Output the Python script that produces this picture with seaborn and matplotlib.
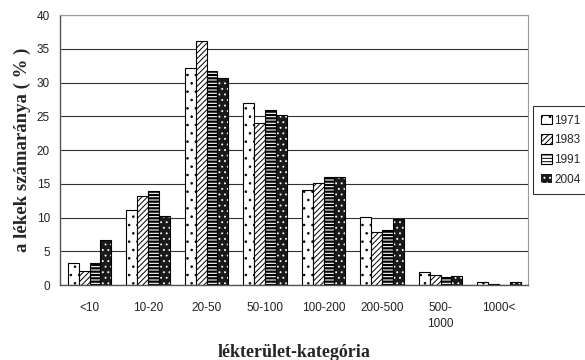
import matplotlib
matplotlib.use("Agg")
import matplotlib.pyplot as plt
import seaborn as sns
import pandas as pd
from matplotlib.patches import Rectangle

categories = ["<10", "10-20", "20-50", "50-100", "100-200", "200-500", "500-\n1000", "1000<"]
years = ["1971", "1983", "1991", "2004"]
v1971 = [3.3, 11.1, 32.1, 27.0, 14.1, 10.1, 1.9, 0.5]
v1983 = [2.1, 13.2, 36.1, 24.0, 15.2, 7.8, 1.5, 0.2]
v1991 = [3.3, 14.0, 31.7, 25.9, 16.0, 8.2, 1.2, 0.0]
v2004 = [6.7, 10.3, 30.7, 25.2, 16.0, 9.8, 1.3, 0.4]

rows = []
for y, vals in zip(years, [v1971, v1983, v1991, v2004]):
    for c, v in zip(categories, vals):
        rows.append({"cat": c, "year": y, "val": v})
df = pd.DataFrame(rows)

sns.set_style("white")
plt.rcParams['font.family'] = ['Liberation Sans', 'DejaVu Sans']
plt.rcParams['hatch.linewidth'] = 0.7

fig = plt.figure(figsize=(5.85, 3.6), dpi=100)
ax = fig.add_axes([0.103, 0.208, 0.8, 0.75])

sns.barplot(data=df, x="cat", y="val", hue="year", order=categories, hue_order=years,
            width=0.75, ax=ax, errorbar=None, legend=True)

styles = {
    "1971": dict(face="white", hatch="..", edge="black", hlw=0.6),
    "1983": dict(face="white", hatch="//////", edge="black", hlw=0.7),
    "1991": dict(face="white", hatch="-----", edge="black", hlw=1.6),
    "2004": dict(face="#1a1a1a", hatch="...", edge="white", hlw=0.6),
}

def style_patch(p, st):
    p.set_facecolor(st["face"])
    p.set_hatch(st["hatch"])
    p.set_edgecolor(st["edge"])
    p.set_linewidth(0.8 if st["edge"] == "black" else 0.0)
    if hasattr(p, "set_hatch_linewidth"):
        p.set_hatch_linewidth(st["hlw"])
    else:
        p._hatch_linewidth = st["hlw"]

for cont, yr in zip(ax.containers, years):
    st = styles[yr]
    for p in cont.patches:
        style_patch(p, st)
        if st["edge"] == "white" and p.get_height() > 0:
            ax.add_patch(Rectangle((p.get_x(), p.get_y()), p.get_width(), p.get_height(),
                                   fill=False, edgecolor="black", linewidth=0.8, zorder=p.get_zorder() + 0.1))

ax.set_ylim(0, 40)
ax.set_xlim(-0.5, len(categories) - 0.5)
ax.set_yticks(range(0, 41, 5))
ax.yaxis.grid(True, color="#333333", linewidth=0.8)
ax.set_axisbelow(True)

ax.set_xticks(range(len(categories)))
ax.set_xticklabels(categories)
ax.set_xticks([i - 0.5 for i in range(len(categories) + 1)], minor=True)
ax.tick_params(axis="x", which="major", length=0, labelsize=8.5, pad=12, colors="#222222")
ax.tick_params(axis="x", which="minor", length=4, direction="out", color="#555555")
ax.tick_params(axis="y", length=4, direction="out", labelsize=8.5, color="#555555", colors="#222222")
for lab in ax.get_xticklabels():
    lab.set_verticalalignment("top")
    lab.set_linespacing(1.5)

for s in ["left", "bottom"]:
    ax.spines[s].set_color("#555555")
    ax.spines[s].set_linewidth(1.0)
for s in ["top", "right"]:
    ax.spines[s].set_color("#999999")
    ax.spines[s].set_linewidth(0.8)

ax.set_xlabel("lékterület-kategória", fontfamily="Liberation Serif", fontweight="bold",
              fontsize=13, labelpad=10)
ax.set_ylabel("a lékek számaránya ( % )", fontfamily="Liberation Serif", fontweight="bold",
              fontsize=13.5, labelpad=4)

handles = []
for yr in years:
    st = styles[yr]
    h = Rectangle((0, 0), 1, 1)
    style_patch(h, st)
    if st["edge"] == "white":
        h.set_edgecolor("white")
    handles.append(h)
leg = ax.legend(handles, years, loc="center left", bbox_to_anchor=(1.005, 0.5),
                frameon=True, fancybox=False, edgecolor="black", fontsize=8.5,
                handlelength=0.9, handleheight=0.9, handletextpad=0.2,
                borderpad=0.7, labelspacing=0.65, borderaxespad=0.2)
leg.get_frame().set_linewidth(0.8)

fig.savefig("out.png", dpi=100)
